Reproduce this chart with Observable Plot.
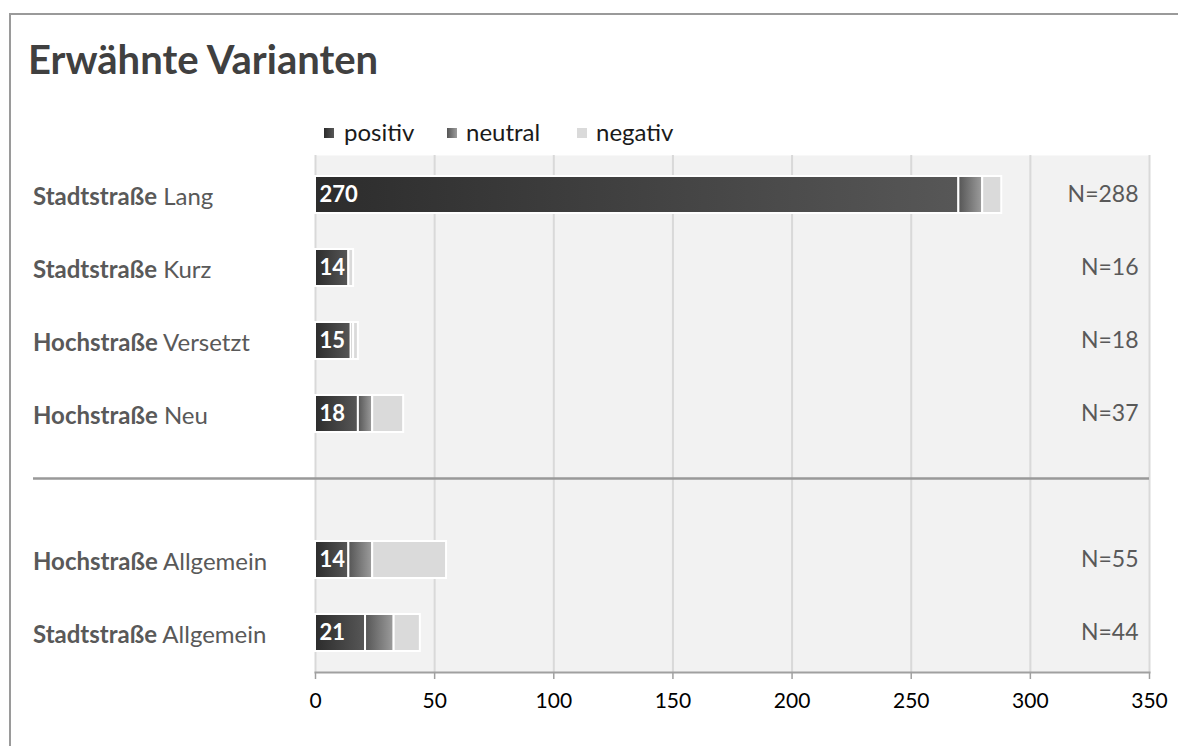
<!DOCTYPE html>
<html>
<head>
<meta charset="utf-8">
<script src="https://cdn.jsdelivr.net/npm/d3@7"></script>
<script src="https://cdn.jsdelivr.net/npm/@observablehq/plot@0.6"></script>
<style>
  html, body { margin: 0; padding: 0; background: #fff; overflow: hidden; }
  #wrap { position: relative; width: 1178px; height: 746px; overflow: hidden; font-family: Lato, "Open Sans", sans-serif; }
  #frame { position: absolute; left: 9px; top: 13px; width: 1400px; height: 1000px; border: 2px solid #9a9a9a; box-sizing: border-box; }
  #title { position: absolute; left: 28px; top: 39px; font-size: 40px; font-weight: bold; color: #404040; line-height: 1; white-space: nowrap; }
  .leg { position: absolute; top: 120px; font-size: 24px; color: #1a1a1a; line-height: 1; }
  .sw { position: absolute; width: 10px; height: 10px; top: 128px; }
  #chart { position: absolute; left: 0; top: 0; }
</style>
</head>
<body>
<div id="wrap">
  <div id="frame"></div>
  <div id="title">Erwähnte Varianten</div>
  <div id="legend"></div>
  <div id="chart"></div>
</div>
<script>
// ---- data ----
const roads    = ["Stadtstraße", "Stadtstraße", "Hochstraße", "Hochstraße", "Hochstraße", "Stadtstraße"];
const variants = ["Lang", "Kurz", "Versetzt", "Neu", "Allgemein", "Allgemein"];
const positiv  = [270, 14, 15, 18, 14, 21];
const neutral  = [10, 0, 1, 6, 10, 12];
const negativ  = [8, 2, 2, 13, 31, 11];
const totals   = [288, 16, 18, 37, 55, 44];
const series   = ["positiv", "neutral", "negativ"];
const xTicks   = [0, 50, 100, 150, 200, 250, 300, 350];
const gapAfter = 4; // empty slot before the "Allgemein" rows

// ---- derived tables ----
const keys = roads.map((r, i) => r + " " + variants[i]);
const gapKey = "\u2007";
const yDomain = [...keys.slice(0, gapAfter), gapKey, ...keys.slice(gapAfter)];
const seriesValues = [positiv, neutral, negativ];
const segs = [];
keys.forEach((k, i) => series.forEach((s, j) => {
  if (seriesValues[j][i] > 0) segs.push({key: k, series: s, value: seriesValues[j][i]});
}));
const posRows = keys.map((k, i) => ({key: k, v: positiv[i]}));
const nRows = keys.map((k, i) => ({key: k, n: "N=" + totals[i]}));

const fillRange = ["url(#gPos)", "url(#gNeu)", "#dadada"];

const chart = Plot.plot({
  width: 1178,
  height: 746,
  marginLeft: 315,
  marginRight: 29,
  marginTop: 155,
  marginBottom: 74,
  style: {fontFamily: "Lato, 'Open Sans', sans-serif", background: "transparent", overflow: "visible"},
  x: {domain: [0, 350], axis: null},
  y: {domain: yDomain, paddingInner: 0.5, paddingOuter: 0.25, axis: null},
  color: {type: "ordinal", domain: series, range: fillRange},
  marks: [
    Plot.frame({fill: "#f2f2f2", stroke: null}),
    Plot.gridX(xTicks, {stroke: "#d9d9d9", strokeWidth: 2, strokeOpacity: 1}),
    Plot.frame({anchor: "bottom", stroke: "#a0a0a0", strokeWidth: 2}),
    Plot.axisX(xTicks, {tickSize: 7, stroke: "#a0a0a0", strokeWidth: 1.5, tickPadding: 14, fontSize: 21, fill: "#000", label: null}),
    Plot.barX(segs, Plot.stackX({y: "key", x: "value", fill: "series", stroke: "white", strokeWidth: 2})),
    Plot.text(posRows, {x: 0, y: "key", text: d => String(d.v), dx: 4, textAnchor: "start", fill: "white", fontWeight: "bold", fontSize: 22}),
    Plot.text(nRows, {y: "key", text: "n", frameAnchor: "right", dx: -11, textAnchor: "end", fill: "#595959", fontSize: 23})
  ]
});

// gradients
const svg = d3.select(chart);
const defs = svg.insert("defs", ":first-child");
function grad(id, c0, c1) {
  const g = defs.append("linearGradient").attr("id", id).attr("x1", "0").attr("x2", "1").attr("y1", "0").attr("y2", "0");
  g.append("stop").attr("offset", "0").attr("stop-color", c0);
  g.append("stop").attr("offset", "1").attr("stop-color", c1);
}
grad("gPos", "#2c2c2c", "#575757");
grad("gNeu", "#555555", "#9d9d9d");

// row labels and separator through the plot's own scales
const y = chart.scale("y");
const x = chart.scale("x");
keys.forEach((k, i) => {
  const cy = y.apply(k) + y.bandwidth / 2;
  const t = svg.append("text").attr("x", 33).attr("y", cy + 2).attr("dy", "0.36em")
    .attr("text-anchor", "start")
    .attr("font-size", 24).attr("fill", "#595959").attr("font-family", "Lato, 'Open Sans', sans-serif");
  t.append("tspan").attr("font-weight", "bold").text(roads[i]);
  t.append("tspan").text(" " + variants[i]);
});
const sepY = y.apply(gapKey) + y.bandwidth / 2 - 8;
svg.append("line").attr("x1", 33).attr("x2", x.apply(350)).attr("y1", sepY).attr("y2", sepY)
  .attr("stroke", "#999").attr("stroke-width", 2.5);

document.getElementById("chart").appendChild(chart);

// legend
const legend = document.getElementById("legend");
const legX = [[324, 344], [447, 466], [577, 596]];
const swatch = ["linear-gradient(90deg,#2c2c2c,#575757)", "linear-gradient(90deg,#555,#9d9d9d)", "#dadada"];
series.forEach((s, i) => {
  const sw = document.createElement("div");
  sw.className = "sw"; sw.style.left = legX[i][0] + "px"; sw.style.background = swatch[i];
  legend.appendChild(sw);
  const lb = document.createElement("div");
  lb.className = "leg"; lb.style.left = legX[i][1] + "px"; lb.textContent = s;
  legend.appendChild(lb);
});
</script>
</body>
</html>
